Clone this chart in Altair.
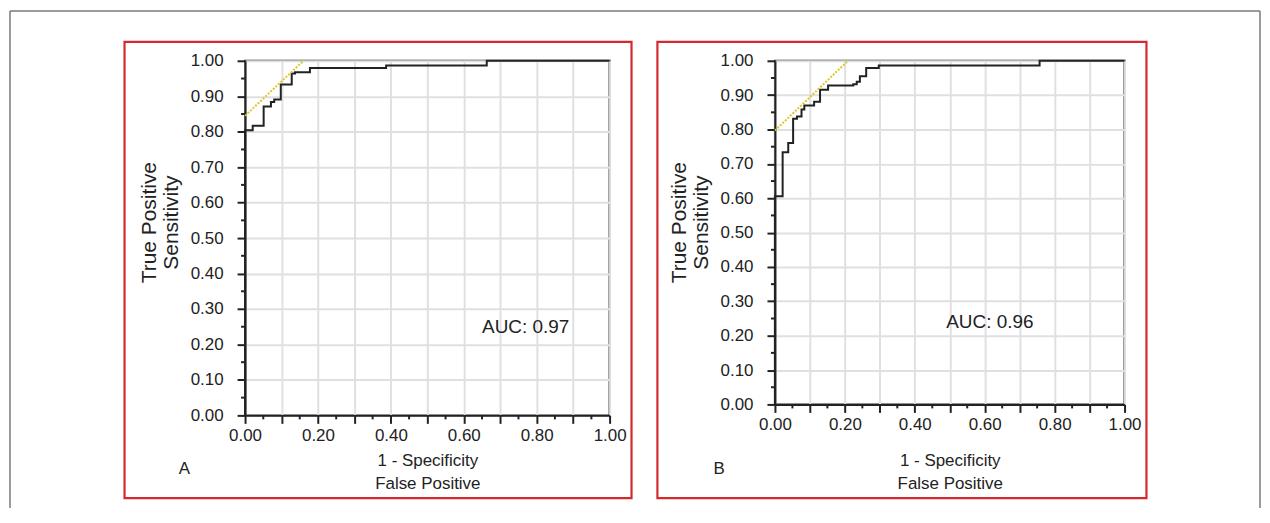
import altair as alt
import pandas as pd

# ---- data ----
a_fpr = [0.0, 0.0, 0.021, 0.051, 0.071, 0.080, 0.098, 0.128, 0.137, 0.178, 0.387, 0.663, 1.0]
a_tpr = [0.0, 0.804, 0.817, 0.871, 0.884, 0.891, 0.933, 0.964, 0.968, 0.980, 0.987, 1.0, 1.0]

b_fpr = [0.0, 0.0, 0.022, 0.038, 0.052, 0.063, 0.076, 0.084, 0.112, 0.129, 0.152,
         0.224, 0.234, 0.243, 0.261, 0.297, 0.757, 1.0]
b_tpr = [0.0, 0.606, 0.734, 0.761, 0.831, 0.838, 0.858, 0.870, 0.881, 0.916, 0.928,
         0.932, 0.939, 0.955, 0.979, 0.986, 1.0, 1.0]

a_tan_x = [0.0, 0.160]
a_tan_y = [0.845, 1.0]
b_tan_x = [0.0, 0.209]
b_tan_y = [0.797, 1.0]

major_ticks = [0.0, 0.1, 0.2, 0.3, 0.4, 0.5, 0.6, 0.7, 0.8, 0.9, 1.0]
minor_ticks = [0.05, 0.15, 0.25, 0.35, 0.45, 0.55, 0.65, 0.75, 0.85, 0.95]

auc_labels = ["AUC: 0.97", "AUC: 0.96"]
panel_labels = ["A", "B"]
x_title = ["1 - Specificity", "False Positive"]
y_title = ["True Positive", "Sensitivity"]

FONT = "'Liberation Sans', Arial, sans-serif"
INK = "#222222"
RED = "#d42a2e"
GRAY = "#7a7a7a"
YEL = "#d8c82a"


def one_row():
    return pd.DataFrame({"k": [0]})


def panel(fpr, tpr, tx, ty, w, h, auc, plabel, red_box, auc_pos, lab_pos, xtitle_pad, outer=None):
    xs = alt.Scale(domain=[0, 1], nice=False, zero=False)
    ys = alt.Scale(domain=[0, 1], nice=False, zero=False)
    common = dict(
        values=major_ticks, tickSize=8, tickWidth=2, tickColor=INK,
        domainColor=INK, domainWidth=2, gridColor="#e0e0e0", gridWidth=2,
        labelColor=INK, labelOverlap=False, labelFlush=False,
        titleColor=INK, titleFontWeight="normal",
    )
    x_axis = alt.Axis(
        title=x_title, labelExpr="round(datum.value*10) % 2 == 0 ? format(datum.value, '.2f') : ''",
        labelFont=FONT, labelFontSize=17, labelPadding=4,
        titleFont=FONT, titleFontSize=17, titlePadding=xtitle_pad, titleLineHeight=23, **common)
    y_axis = alt.Axis(
        title=y_title, labelExpr="format(datum.value, '.2f')",
        labelFont=FONT, labelFontSize=17, labelPadding=14,
        titleFont=FONT, titleFontSize=21, titlePadding=9, titleLineHeight=22,
        titleY=162, **common)

    cdf = pd.DataFrame({"fpr": fpr, "tpr": tpr, "i": list(range(len(fpr)))})
    curve = alt.Chart(cdf).mark_line(interpolate="step-after", color=INK, strokeWidth=2).encode(
        x=alt.X("fpr:Q", scale=xs, axis=x_axis),
        y=alt.Y("tpr:Q", scale=ys, axis=y_axis),
        order=alt.Order("i:Q"),
    )
    tdf = pd.DataFrame({"fpr": tx, "tpr": ty})
    tangent = alt.Chart(tdf).mark_line(color=YEL, strokeWidth=2, strokeDash=[2, 1.5]).encode(
        x=alt.X("fpr:Q", scale=xs, axis=x_axis), y=alt.Y("tpr:Q", scale=ys, axis=y_axis))

    mdf = pd.DataFrame({"fpr": minor_ticks, "tpr": minor_ticks})
    xminor = alt.Chart(mdf).mark_rule(color=INK, strokeWidth=2).encode(
        x=alt.X("fpr:Q", scale=xs, axis=x_axis), y=alt.value(h), y2=alt.value(h + 4))
    yminor = alt.Chart(mdf).mark_rule(color=INK, strokeWidth=2).encode(
        y=alt.Y("tpr:Q", scale=ys, axis=y_axis), x=alt.value(0), x2=alt.value(-4))

    auc_t = alt.Chart(one_row()).mark_text(
        font=FONT, fontSize=19, color=INK, align="left", baseline="middle").encode(
        x=alt.value(auc_pos[0]), y=alt.value(auc_pos[1]), text=alt.value(auc))
    lab_t = alt.Chart(one_row()).mark_text(
        font=FONT, fontSize=17, color=INK, align="center", baseline="middle").encode(
        x=alt.value(lab_pos[0]), y=alt.value(lab_pos[1]), text=alt.value(plabel))
    box = alt.Chart(one_row()).mark_rect(filled=False, stroke=RED, strokeWidth=2.2).encode(
        x=alt.value(red_box[0]), x2=alt.value(red_box[1]),
        y=alt.value(red_box[2]), y2=alt.value(red_box[3]))

    layers = [curve, tangent, xminor, yminor, auc_t, lab_t, box]
    if outer is not None:
        l, r, t, b = outer
        layers += [
            alt.Chart(one_row()).mark_rule(color=GRAY, strokeWidth=1.5).encode(
                x=alt.value(l), y=alt.value(t), y2=alt.value(b)),
            alt.Chart(one_row()).mark_rule(color=GRAY, strokeWidth=1.5).encode(
                x=alt.value(r), y=alt.value(t), y2=alt.value(b)),
            alt.Chart(one_row()).mark_rule(color=GRAY, strokeWidth=1.5).encode(
                x=alt.value(l), x2=alt.value(r), y=alt.value(t)),
        ]
    return alt.layer(*layers).properties(width=w, height=h)


pa = panel(a_fpr, a_tpr, a_tan_x, a_tan_y, 366, 356, auc_labels[0], panel_labels[0],
           red_box=(-121, 388, -19, 439), auc_pos=(238, 267), lab_pos=(-61, 410),
           xtitle_pad=9, outer=(-236, 1019, -50, 449))
pb = panel(b_fpr, b_tpr, b_tan_x, b_tan_y, 351, 345, auc_labels[1], panel_labels[1],
           red_box=(-118, 373, -19, 439), auc_pos=(172, 262), lab_pos=(-56, 410),
           xtitle_pad=20)

chart = alt.hconcat(pa, pb, spacing=166, bounds="flush").properties(
    padding=0, background="white"
).configure_view(stroke=INK, strokeWidth=2)

chart.save("out.html", embed_options={"renderer": "svg", "actions": False})
